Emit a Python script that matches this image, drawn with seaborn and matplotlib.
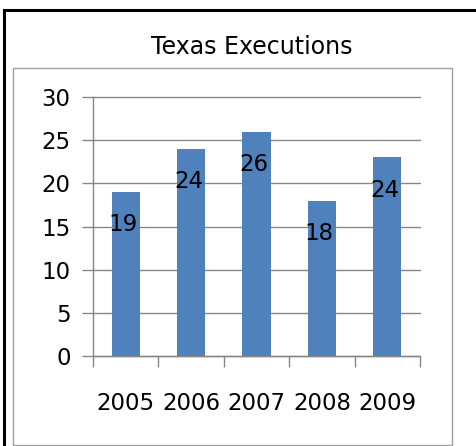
import numpy as np
import matplotlib.pyplot as plt
import matplotlib.patches as mpatches
import pandas as pd
import seaborn as sns

# data
years = ["2005", "2006", "2007", "2008", "2009"]
executions = [19, 24, 26, 18, 23]
bar_labels = ["19", "24", "26", "18", "24"]
y_ticks = [0, 5, 10, 15, 20, 25, 30]

sns.set_style("white")
plt.rcParams['font.family'] = ['DejaVu Sans']
plt.rcParams['text.color'] = 'black'
plt.rcParams['xtick.labelcolor'] = 'black'
plt.rcParams['ytick.labelcolor'] = 'black'

W, H = 477, 446
fig = plt.figure(figsize=(W / 100, H / 100), dpi=100)

# outer black frame and inner grey chart frame
fig.patches.append(mpatches.Rectangle((4 / W, -0.1), 1.2, 1 - 10 / H + 0.1,
                                      transform=fig.transFigure, fill=False,
                                      edgecolor='black', linewidth=2.2))
fig.patches.append(mpatches.Rectangle((13 / W, 1.5 / H), (452 - 13) / W, (445 - 68) / H,
                                      transform=fig.transFigure, fill=False,
                                      edgecolor='#a0a0a0', linewidth=1.0))

fig.text(252 / W, 1 - 47 / H, "Texas Executions", ha='center', va='center', fontsize=17)

ax = fig.add_axes([93 / W, 1 - 356 / H, (420 - 93) / W, (356 - 97) / H])
df = pd.DataFrame({"year": years, "n": executions})
sns.barplot(data=df, x="year", y="n", color='#4F81BD', saturation=1, width=0.43,
            linewidth=0, ax=ax)

for i, (v, lab) in enumerate(zip(executions, bar_labels)):
    ax.text(i - 0.04, v - 3.8, lab, ha='center', va='center', fontsize=16.5, color='black')

ax.set_ylim(0, 30)
ax.set_xlim(-0.5, len(years) - 0.5)
ax.set_yticks(y_ticks)
ax.set_xlabel("")
ax.set_ylabel("")

# category boundary ticks with labels at the centres
ax.set_xticks(np.arange(len(years) + 1) - 0.5)
ax.set_xticklabels([])
ax.set_xticks(np.arange(len(years)), minor=True)
ax.set_xticklabels(years, minor=True)
ax.tick_params(axis='x', which='major', direction='out', length=8, width=1, color='#868686')
ax.tick_params(axis='x', which='minor', length=0, pad=26, labelsize=16.5, labelcolor='black')
ax.tick_params(axis='y', direction='out', length=8, width=1, color='#868686', pad=8,
               labelsize=16.5, labelcolor='black')
ax.tick_params(left=True, bottom=True)

ax.grid(axis='y', color='#868686', linewidth=1)
ax.set_axisbelow(True)
for gl in ax.get_ygridlines():
    gl.set_clip_on(False)

for s in ['top', 'right']:
    ax.spines[s].set_visible(False)
for s in ['left', 'bottom']:
    ax.spines[s].set_color('#868686')
    ax.spines[s].set_linewidth(1)

fig.savefig("out.png", dpi=100)
